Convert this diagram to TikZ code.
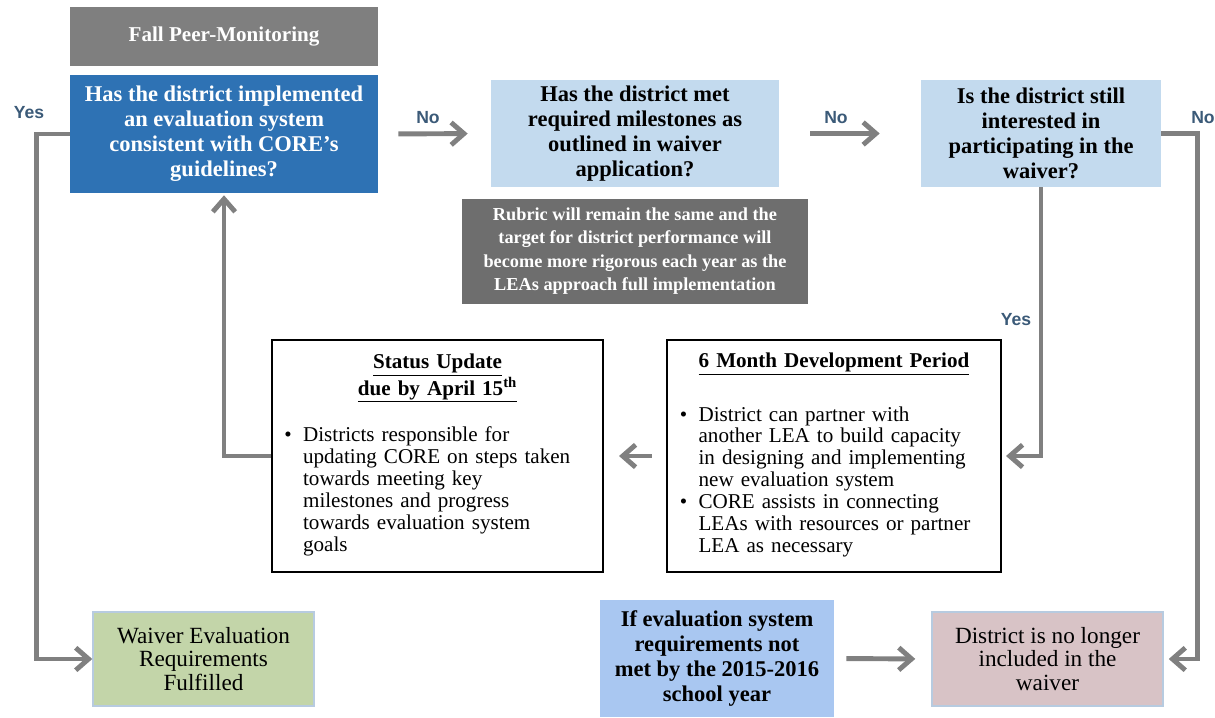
\documentclass[tikz,border=0pt]{standalone}
\usepackage{fontspec}
\setmainfont{Liberation Serif}
\setsansfont{Liberation Sans}
\usepackage{xcolor}
\usepackage{tikz}
\usetikzlibrary{arrows.meta,positioning}
\definecolor{headgray}{HTML}{7F7F7F}
\definecolor{notegray}{HTML}{6E6E6E}
\definecolor{deepblue}{HTML}{2E72B4}
\definecolor{paleblue}{HTML}{C3DAEE}
\definecolor{skyblue}{HTML}{A9C7F1}
\definecolor{sage}{HTML}{C3D5A9}
\definecolor{rose}{HTML}{D8C3C6}
\definecolor{edgeblue}{HTML}{B7CBE0}
\definecolor{linegray}{HTML}{808080}
\definecolor{slate}{HTML}{3B5A78}
\newcommand{\pointlist}[1]{\begin{tabular}[t]{@{}l@{\hspace{8pt}}l@{}}#1\end{tabular}}
\tikzset{
  >={Straight Barb[length=3.2mm,width=5.6mm]},
  flow/.style={->,line width=3.5pt,draw=linegray,line join=miter},
  qbox/.style={fill=paleblue,inner sep=0pt,align=center,
    font=\fontsize{16}{17.8}\selectfont\bfseries},
  darkq/.style={qbox,fill=deepblue,text=white},
  headbox/.style={qbox,fill=headgray,text=white,font=\fontsize{15}{17}\selectfont\bfseries},
  notebox/.style={qbox,fill=notegray,text=white,font=\fontsize{13}{16.4}\selectfont\bfseries},
  listbox/.style={draw=black,line width=1.4pt,fill=white,inner sep=0pt,align=left,
    minimum height=5.8cm,font=\fontsize{15}{15.6}\selectfont},
  endbox/.style={draw=edgeblue,line width=1pt,inner sep=0pt,align=center,
    minimum height=2.35cm,font=\fontsize{16.5}{17}\selectfont},
  yesno/.style={text=slate,inner sep=0pt,font=\sffamily\bfseries\fontsize{12.5}{14}\selectfont}
}
\begin{document}
\begin{tikzpicture}[x=0.025cm,y=-0.025cm]
  \useasboundingbox (0,0) rectangle (1215,717);
  % top row of questions
  \node[darkq,minimum width=7.7cm,minimum height=2.95cm] (q1) at (224,134)
    {Has the district implemented\\an evaluation system\\consistent with CORE’s\\guidelines?};
  \node[headbox,above=0.2cm of q1,minimum width=7.7cm,minimum height=1.475cm] (fall) {Fall Peer-Monitoring};
  \node[qbox,minimum width=7.2cm,minimum height=2.675cm] (q2) at (635,133.5)
    {Has the district met\\required milestones as\\outlined in waiver\\application?};
  \node[notebox,below=0.275cm of q2,minimum width=8.625cm,minimum height=2.625cm] (note)
    {Rubric will remain the same and the\\target for district performance will\\become more rigorous each year as the\\LEAs approach full implementation};
  \node[qbox,minimum width=6cm,minimum height=2.675cm] (q3) at (1041,133.5)
    {Is the district still\\interested in\\participating in the\\waiver?};
  % middle row
  \node[listbox,minimum width=8.275cm,text width=7.65cm] (stat) at (437.5,456)
    {{\centering\bfseries\underline{Status Update}\\\underline{due by April 15\textsuperscript{th}}\par}\vspace{16pt}
     \pointlist{\textbullet & Districts responsible for\\
       & updating CORE on steps taken\\
       & towards meeting key\\
       & milestones and progress\\
       & towards evaluation system\\
       & goals}\par\vspace{18pt}};
  \node[listbox,minimum width=8.35cm,text width=7.7cm] (dev) at (834,456)
    {{\centering\bfseries\underline{6 Month Development Period}\par}\vspace{21pt}
     \pointlist{\textbullet & District can partner with\\
       & another LEA to build capacity\\
       & in designing and implementing\\
       & new evaluation system\\
       \textbullet & CORE assists in connecting\\
       & LEAs with resources or partner\\
       & LEA as necessary}\par\vspace{18pt}};
  % bottom row
  \node[endbox,fill=sage,minimum width=5.525cm] (ok) at (203.5,659)
    {Waiver Evaluation\\Requirements\\Fulfilled};
  \node[qbox,fill=skyblue,minimum width=5.85cm,minimum height=2.925cm,
    font=\fontsize{16}{18}\selectfont\bfseries] (late) at (717,658.5)
    {If evaluation system\\requirements not\\met by the 2015-2016\\school year};
  \node[endbox,fill=rose,minimum width=5.775cm] (out) at (1047.5,659)
    {District is no longer\\included in the\\waiver};
  % answers
  \node[yesno] (yes1) at (29,113) {Yes};
  \node[yesno] (no1) at (428,118) {No};
  \node[yesno] (no2) at (836,118) {No};
  \node[yesno] (no3) at (1203,118) {No};
  \node[yesno] (yes2) at (1016,320) {Yes};
  % connectors
  \draw[flow,shorten <=0.5cm,shorten >=0.575cm] (q1.east) -- (q2.west);
  \draw[flow,shorten <=0.775cm,shorten >=1.025cm] (q2.east) -- (q3.west);
  \draw[flow] (q1.west) -- ++(-33,0) |- (ok.west);
  \draw[flow,shorten >=0.125cm] (q3.east) -- ++(36,0) |- (out.east);
  \draw[flow,shorten >=0.1cm] (q3.south) |- (dev.east);
  \draw[flow,shorten <=0.35cm,shorten >=0.375cm] (dev.west) -- (stat.east);
  \draw[flow,shorten >=0.05cm] (stat.west) -| (q1.south);
  \draw[flow,shorten <=0.3cm,shorten >=0.4cm] (late.east) -- (out.west);
\end{tikzpicture}
\end{document}
